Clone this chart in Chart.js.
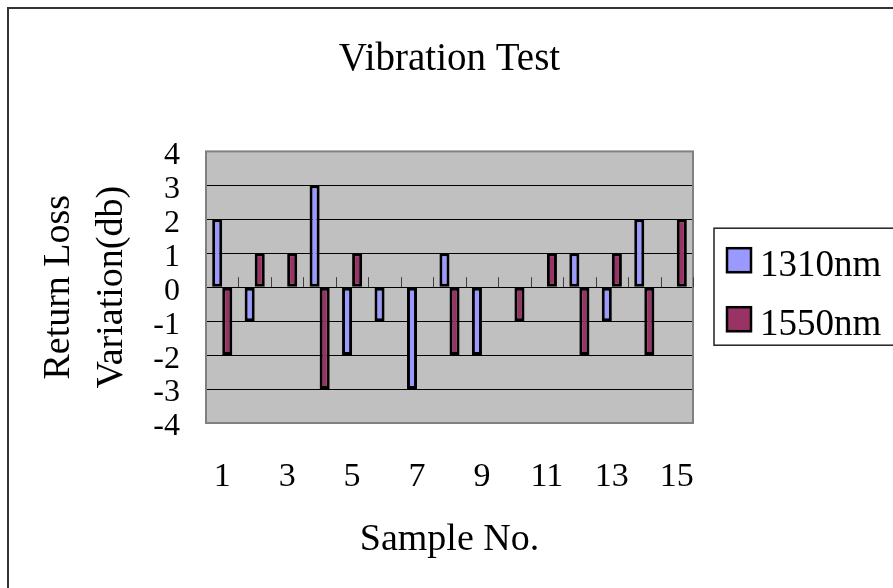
<!DOCTYPE html>
<html>
<head>
<meta charset="utf-8">
<script src="https://cdn.jsdelivr.net/npm/chart.js"></script>
<style>
  html, body { margin: 0; padding: 0; background: #fff; overflow: hidden; }
  #wrap { position: relative; width: 893px; height: 588px; }
</style>
</head>
<body>
<div id="wrap"><canvas id="vibrationChart"></canvas></div>
<script>
// Data
const samples = ["1", "2", "3", "4", "5", "6", "7", "8", "9", "10", "11", "12", "13", "14", "15"];
const loss1310 = [2, -1, 0, 3, -2, -1, -3, 1, -2, 0, 0, 1, -1, 2, 0];
const loss1550 = [-2, 1, 1, -3, 1, 0, 0, -2, 0, -1, 1, -2, 1, -2, 2];
const seriesNames = ["1310nm", "1550nm"];
const seriesColors = ["#9999FF", "#993366"];
const yMin = -4, yMax = 4, yStep = 1;

const serif = "'Liberation Serif', 'Times New Roman', serif";

// Excel look: grey plot area, border, outer frame, zero-line ticks and boxed legend
const excelLook = {
  id: 'excelLook',
  beforeDraw(chart) {
    const {ctx, chartArea: a} = chart;
    ctx.save();
    ctx.fillStyle = '#fff';
    ctx.fillRect(0, 0, chart.width, chart.height);
    ctx.fillStyle = '#C0C0C0';
    ctx.fillRect(a.left, a.top, a.right - a.left, a.bottom - a.top);
    ctx.restore();
  },
  afterDraw(chart) {
    const {ctx, chartArea: a, scales} = chart;
    ctx.save();
    // plot border
    ctx.strokeStyle = '#808080';
    ctx.lineWidth = 2;
    ctx.strokeRect(a.left, a.top, a.right - a.left, a.bottom - a.top);
    // small category ticks on the zero line
    const y0 = scales.y.getPixelForValue(0);
    ctx.strokeStyle = '#404040';
    ctx.lineWidth = 1;
    for (let i = 1; i <= samples.length; i++) {
      const x = Math.round(scales.x.getPixelForValue(i - 0.5)) + 0.5;
      ctx.beginPath();
      ctx.moveTo(x, y0);
      ctx.lineTo(x, y0 - 10);
      ctx.stroke();
    }
    // outer chart frame
    ctx.strokeStyle = '#333';
    ctx.lineWidth = 2;
    ctx.beginPath();
    ctx.moveTo(8, chart.height + 5);
    ctx.lineTo(8, 8);
    ctx.lineTo(chart.width + 5, 8);
    ctx.stroke();
    // legend
    const mid = (a.top + a.bottom) / 2;
    const lx = a.right + 21;
    ctx.strokeStyle = '#222';
    ctx.lineWidth = 1.5;
    ctx.strokeRect(lx, mid - 59, 300, 117);
    ctx.font = '37px ' + serif;
    ctx.textBaseline = 'alphabetic';
    ctx.textAlign = 'left';
    chart.data.datasets.forEach((ds, i) => {
      const cy = mid - 27 + i * 59;
      ctx.fillStyle = ds.backgroundColor;
      ctx.fillRect(lx + 12, cy - 13, 26, 26);
      ctx.strokeStyle = '#000';
      ctx.lineWidth = 2.5;
      ctx.strokeRect(lx + 13, cy - 12, 24, 24);
      ctx.fillStyle = '#000';
      ctx.fillText(ds.label, lx + 46, cy + 16);
    });
    ctx.restore();
  }
};

const config = {
  type: 'bar',
  data: {
    labels: samples,
    datasets: [
      { label: seriesNames[0], data: loss1310, backgroundColor: seriesColors[0] },
      { label: seriesNames[1], data: loss1550, backgroundColor: seriesColors[1] }
    ]
  },
  options: {
    responsive: false,
    animation: false,
    layout: { padding: { left: 0, right: 200, top: 0, bottom: 0 } },
    datasets: {
      bar: {
        borderColor: '#000',
        borderWidth: 3,
        borderSkipped: false,
        categoryPercentage: 0.62,
        barPercentage: 1
      }
    },
    plugins: {
      legend: { display: false },
      tooltip: { enabled: false },
      title: {
        display: true,
        text: 'Vibration Test',
        fullSize: false,
        color: '#000',
        font: { family: serif, size: 39, weight: 'normal', lineHeight: 1.2 },
        padding: { top: 36, bottom: 68.6 }
      }
    },
    scales: {
      x: {
        grid: { display: false },
        border: { display: false },
        afterFit: (s) => { s.height = 165; },
        ticks: {
          autoSkip: false,
          maxRotation: 0,
          color: '#000',
          padding: 25.5,
          font: { family: serif, size: 34 },
          callback: (v, i) => (i % 2 === 0 ? samples[i] : '')
        },
        title: {
          display: true,
          text: 'Sample No.',
          color: '#000',
          font: { family: serif, size: 38, lineHeight: 1.2 },
          padding: { top: 0, bottom: 25 }
        }
      },
      y: {
        min: yMin,
        max: yMax,
        afterFit: (s) => { s.width = 206; },
        grid: { color: '#000', lineWidth: 1, drawTicks: false },
        border: { display: false },
        ticks: {
          stepSize: yStep,
          autoSkip: false,
          color: '#000',
          padding: 26,
          labelOffset: 4,
          font: { family: serif, size: 32 }
        },
        title: {
          display: true,
          text: ['Return Loss', 'Variation(db)'],
          color: '#000',
          font: { family: serif, size: 38, lineHeight: 1.4 },
          padding: { top: 32.4, bottom: 0 }
        }
      }
    }
  },
  plugins: [excelLook]
};

window.addEventListener('DOMContentLoaded', () => {
  const canvas = document.getElementById('vibrationChart');
  canvas.width = 893;
  canvas.height = 588;
  new Chart(canvas, config);
});
</script>
</body>
</html>
